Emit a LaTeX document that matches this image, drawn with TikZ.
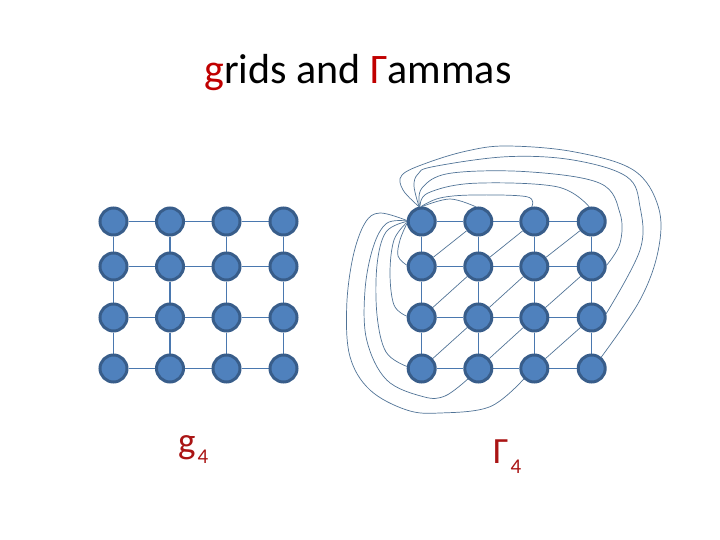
\documentclass[tikz,border=0pt]{standalone}
\usepackage{fontspec}
\setmainfont{Carlito}
\usetikzlibrary{backgrounds}
\definecolor{nodefill}{RGB}{79,129,189}
\definecolor{nodedraw}{RGB}{56,93,138}
\definecolor{edgecol}{RGB}{74,120,175}
\definecolor{curvecol}{RGB}{80,115,150}
\definecolor{darkred}{RGB}{192,0,0}
\definecolor{labelred}{RGB}{170,20,20}
\tikzset{
  vert/.style={circle,fill=nodefill,draw=nodedraw,line width=3pt,minimum size=27pt,inner sep=0pt},
  gedge/.style={draw=edgecol,line width=1.2pt},
  dedge/.style={draw=curvecol,line width=0.7pt},
  cedge/.style={draw=curvecol,line width=0.7pt},
  lbl/.style={anchor=base west,inner sep=0pt,font=\fontsize{37}{44}\selectfont,text=labelred},
}
\newcommand{\subfour}{\hspace{2pt}\raisebox{-10pt}{\fontsize{21}{24}\selectfont 4}}
\begin{document}
\begin{tikzpicture}[x=1pt,y=-1pt]
\useasboundingbox (0,0) rectangle (720,540);
% title
\node[anchor=base,inner sep=0pt,font=\fontsize{42}{50}\selectfont] (title) at (358,84)
  {\textcolor{darkred}{g}rids and \textcolor{darkred}{Γ}ammas};
\node[lbl] (lg) at (178,453) {g\subfour};
\node[lbl] (lG) at (493,463) {Γ\subfour};
% left grid
\foreach \c/\x in {1/113.5,2/170,3/226.5,4/283.5}{
  \foreach \r/\y in {1/221.5,2/266.5,3/317.5,4/368.5}{
    \node[vert] (a\r\c) at (\x,\y) {};
  }
}
% right grid
\foreach \c/\x in {1/421.7,2/478.3,3/534.3,4/591.7}{
  \foreach \r/\y in {1/221.5,2/266.5,3/317.5,4/368.5}{
    \node[vert] (b\r\c) at (\x,\y) {};
  }
}
\begin{scope}[on background layer]
\foreach \p in {a,b}{
  \foreach \r in {1,2,3,4}{
    \draw[gedge] (\p\r1) -- (\p\r2) -- (\p\r3) -- (\p\r4);
    \draw[gedge] (\p1\r) -- (\p2\r) -- (\p3\r) -- (\p4\r);
  }
}
\foreach \r/\rr in {2/1,3/2,4/3}{
  \foreach \c/\cc in {1/2,2/3,3/4}{
    \draw[dedge] (b\r\c) -- (b\rr\cc);
  }
}
% curves from the corner vertex
\draw[cedge] plot[smooth,tension=0.6] coordinates {(b11.100) (403,190) (402,175) (426.7,163) (466.7,151) (506.7,146) (573.3,151.7) (633.3,170) (658.3,206.7) (658.3,250) (640,300) (b44.50)};
\draw[cedge] plot[smooth,tension=0.6] coordinates {(b11.100) (414,186) (418,174) (433,166.7) (506.7,156.7) (573,160) (626.7,176.7) (640,206.7) (640,250) (b34.15)};
\draw[cedge] plot[smooth,tension=0.6] coordinates {(b11.98) (422,188) (450,173.3) (526.7,171.7) (600,183.3) (620,213.3) (620,243.3) (b24.5)};
\draw[cedge] plot[smooth,tension=0.6] coordinates {(b11.96) (428,193) (473.3,183.3) (556.7,186.7) (b14.100)};
\draw[cedge] plot[smooth,tension=0.6] coordinates {(b11.92) (440,198) (473,195) (526.7,196.7) (b13.100)};
\draw[cedge] plot[smooth,tension=0.6] coordinates {(b11.88) (450,199) (b12.100)};
\draw[cedge] plot[smooth,tension=0.6] coordinates {(b11.188) (400,240) (398,256) (b21.175)};
\draw[cedge] plot[smooth,tension=0.6] coordinates {(b11.184) (394,240) (390,273) (394,305) (b31.175)};
\draw[cedge] plot[smooth,tension=0.6] coordinates {(b11.180) (386,232) (377,265) (377,315) (386,352) (b41.172)};
\draw[cedge] plot[smooth,tension=0.6] coordinates {(b11.178) (386.7,223.3) (373.3,246.7) (365,290) (366.7,340) (386.7,380) (423.3,396.7) (445,396) (b42.225)};
\draw[cedge] plot[smooth,tension=0.6] coordinates {(b11.176) (380,213) (365,223) (353,256.7) (346.7,306.7) (350,356.7) (370,390) (406.7,410) (440,413) (490,406.7) (b43.225)};
\end{scope}
\end{tikzpicture}
\end{document}
